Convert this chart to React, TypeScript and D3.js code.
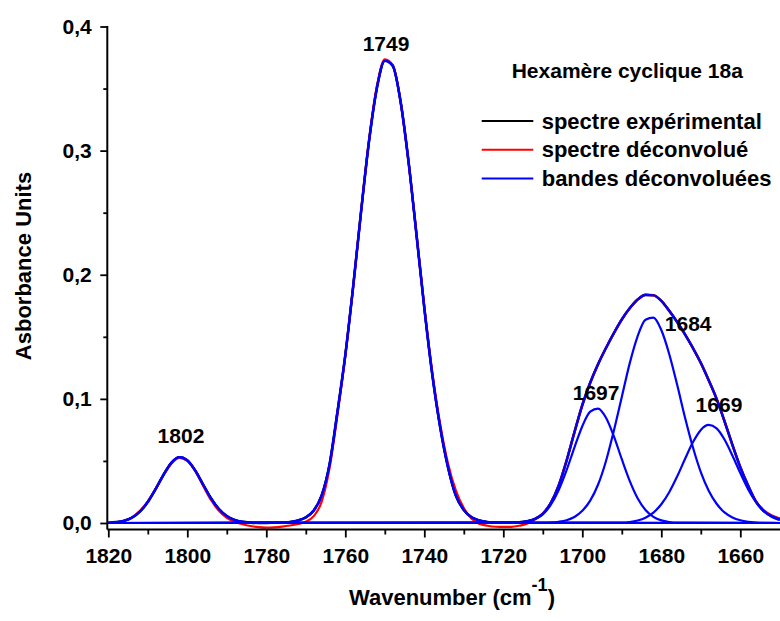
import React from 'react';
import * as d3 from 'd3';

const width = 780;
const height = 621;
const font = '"Liberation Sans", Arial, Helvetica, sans-serif';

// wavenumber grid of the spectra (cm-1), every 2 cm-1
const wavenumbers = d3.range(1820, 1649, -2);

const spectreExperimental = [
  0.0002, 0.0007, 0.0018, 0.0043, 0.0092, 0.017, 0.0275, 0.039, 0.0486, 0.053,
  0.0505, 0.0423, 0.031, 0.0199, 0.0112, 0.0055, 0.0024, 0.0009, 0.0003, 0.0001,
  0.0001, 0.0002, 0.0003, 0.0008, 0.002, 0.0045, 0.01, 0.022, 0.047, 0.0892,
  0.1352, 0.1908, 0.251, 0.3074, 0.3505, 0.3724, 0.3684, 0.3394, 0.2913, 0.2329,
  0.1734, 0.1202, 0.0776, 0.045, 0.022, 0.0105, 0.0045, 0.002, 0.0008, 0.0003,
  0.0002, 0.0003, 0.0005, 0.0013, 0.0033, 0.0075, 0.016, 0.03, 0.05, 0.073,
  0.095, 0.113, 0.128, 0.141, 0.153, 0.164, 0.173, 0.18, 0.1838, 0.1835,
  0.179, 0.171, 0.162, 0.152, 0.141, 0.129, 0.115, 0.1, 0.082, 0.063,
  0.045, 0.03, 0.017, 0.0095, 0.0055, 0.0032,
];

const spectreDeconvolue = [
  0.0, 0.0005, 0.0016, 0.0045, 0.0098, 0.0175, 0.0275, 0.0385, 0.048, 0.0525,
  0.05, 0.042, 0.03, 0.0185, 0.0098, 0.0042, 0.001, -0.001, -0.0024, -0.0033,
  -0.0037, -0.0035, -0.0029, -0.002, -0.0008, 0.001, 0.0055, 0.017, 0.044, 0.087,
  0.1345, 0.1905, 0.2515, 0.3085, 0.352, 0.3735, 0.369, 0.3395, 0.2915, 0.2335,
  0.1745, 0.122, 0.08, 0.048, 0.026, 0.012, 0.0035, -0.0008, -0.0022, -0.003,
  -0.0032, -0.0031, -0.0022, -0.0006, 0.0028, 0.0075, 0.016, 0.03, 0.05, 0.073,
  0.095, 0.113, 0.128, 0.141, 0.153, 0.164, 0.173, 0.18, 0.1838, 0.1835,
  0.179, 0.171, 0.162, 0.152, 0.141, 0.129, 0.115, 0.1, 0.082, 0.063,
  0.045, 0.03, 0.0175, 0.0102, 0.006, 0.0036,
];

// deconvoluted bands, each starting at bandStarts[i] and going down by 2 cm-1
const bandStarts = [1820, 1776, 1716, 1710, 1690];
const band1802 = [
  0.0002, 0.0007, 0.0018, 0.0043, 0.0092, 0.017, 0.0275, 0.039, 0.0486, 0.053,
  0.0505, 0.0423, 0.031, 0.0199, 0.0112, 0.0055, 0.0024, 0.0009, 0.0003, 0.0001,
];
const band1749 = [
  0.0003, 0.0008, 0.002, 0.0045, 0.01, 0.022, 0.047, 0.0892, 0.1352, 0.1908,
  0.251, 0.3074, 0.3505, 0.3724, 0.3684, 0.3394, 0.2913, 0.2329, 0.1734, 0.1202,
  0.0776, 0.045, 0.022, 0.0105, 0.0045, 0.002, 0.0008, 0.0003,
];
const band1697 = [
  0.0005, 0.0013, 0.0033, 0.007, 0.0145, 0.0264, 0.0424, 0.0608, 0.078, 0.0897,
  0.0922, 0.0848, 0.0698, 0.0514, 0.034, 0.02, 0.0105, 0.005, 0.0021, 0.0008, 0.0003,
];
const band1684 = [
  0.0002, 0.0004, 0.001, 0.0022, 0.0048, 0.0098, 0.018, 0.031, 0.05, 0.0745,
  0.1015, 0.1286, 0.1504, 0.1637, 0.1655, 0.1555, 0.1362, 0.1115, 0.085, 0.061,
  0.041, 0.026, 0.0155, 0.0085, 0.0045, 0.0022, 0.001, 0.0004, 0.0001,
];
const band1669 = [
  0.0003, 0.0008, 0.002, 0.0043, 0.0084, 0.0151, 0.0248, 0.0374, 0.0516, 0.065,
  0.075, 0.079, 0.0763, 0.0673, 0.0544, 0.0402, 0.0271, 0.0168, 0.0095, 0.0049, 0.0023,
];
const bands = [band1802, band1749, band1697, band1684, band1669];

const peakLabels = ['1802', '1749', '1697', '1684', '1669'];
const labelWavenumbers = [1801.6, 1749.7, 1696.5, 1673.2, 1665.4];
const labelAbsorbance = [0.0646, 0.3801, 0.099, 0.1548, 0.0891];

const xTicks = [1820, 1800, 1780, 1760, 1740, 1720, 1700, 1680, 1660];
const xMinorTicks = [1810, 1790, 1770, 1750, 1730, 1710, 1690, 1670];
const yTicks = [0, 0.1, 0.2, 0.3, 0.4];
const yMinorTicks = [0.05, 0.15, 0.25, 0.35];

const chartTitle = 'Hexamère cyclique 18a';
const legendLabels = ['spectre expérimental', 'spectre déconvolué', 'bandes déconvoluées'];
const legendColors = ['#000000', '#ff0000', '#0000ff'];

const x = d3.scaleLinear().domain([1820, 1650]).range([108.3, 779.8]);
const y = d3.scaleLinear().domain([0, 0.4]).range([523, 26.5]);
const axisY = 529.5;
const axisX = 107.3;

const line = d3
  .line<[number, number]>()
  .x(d => x(d[0]))
  .y(d => y(d[1]))
  .curve(d3.curveMonotoneX);

const spectrum = (values: number[]) =>
  values.map((v, i) => [wavenumbers[i], v] as [number, number]);

const bandPoints = (values: number[], start: number) => {
  const pts = values.map((v, i) => [start - 2 * i, v] as [number, number]);
  const first = pts[0][0];
  const last = pts[pts.length - 1][0];
  const out: [number, number][] = [];
  if (first < 1820) out.push([1820, 0]);
  out.push(...pts);
  if (last > 1650) out.push([1650, 0]);
  return out;
};

export default function App() {
  const xAxisRef = React.useRef<SVGGElement>(null);
  const yAxisRef = React.useRef<SVGGElement>(null);

  React.useEffect(() => {
    document.body.style.margin = '0';

    const gx = d3.select(xAxisRef.current);
    gx.selectAll('*').remove();
    gx.append('g')
      .call(
        d3.axisBottom(x).tickValues(xTicks).tickSize(8).tickPadding(10.5).tickFormat(d3.format('d')) as any
      );
    gx.append('g')
      .call(d3.axisBottom(x).tickValues(xMinorTicks).tickSize(5).tickFormat(() => '') as any);
    gx.selectAll('.domain').remove();
    gx.selectAll('line').attr('stroke', '#000').attr('stroke-width', 1.8);
    gx.selectAll('text')
      .attr('font-family', font)
      .attr('font-size', 21)
      .attr('font-weight', 'bold')
      .attr('fill', '#000');

    const gy = d3.select(yAxisRef.current);
    gy.selectAll('*').remove();
    gy.append('g')
      .call(
        d3
          .axisLeft(y)
          .tickValues(yTicks)
          .tickSize(7)
          .tickPadding(8.5)
          .tickFormat(d => d3.format('.1f')(d as number).replace('.', ',')) as any
      );
    gy.append('g')
      .call(d3.axisLeft(y).tickValues(yMinorTicks).tickSize(4).tickFormat(() => '') as any);
    gy.selectAll('.domain').remove();
    gy.selectAll('line').attr('stroke', '#000').attr('stroke-width', 1.8);
    gy.selectAll('text')
      .attr('font-family', font)
      .attr('font-size', 21)
      .attr('font-weight', 'bold')
      .attr('fill', '#000');
  }, []);

  const expPts = spectrum(spectreExperimental);
  const decPts = spectrum(spectreDeconvolue);

  return (
    <svg width={width} height={height} style={{ display: 'block', background: '#fff' }}>
      {/* spectra */}
      <path d={line(expPts) ?? ''} fill="none" stroke="#000" strokeWidth={2.6} />
      <path d={line(decPts) ?? ''} fill="none" stroke="#ff0000" strokeWidth={2.2} />
      {bands.map((b, i) => (
        <path
          key={peakLabels[i]}
          d={line(bandPoints(b, bandStarts[i])) ?? ''}
          fill="none"
          stroke="#0000ff"
          strokeWidth={2.2}
        />
      ))}
      <path d={line(expPts) ?? ''} fill="none" stroke="#0000ff" strokeWidth={2.2} />

      {/* axes */}
      <line x1={axisX} x2={axisX} y1={y(0.4) - 0.5} y2={axisY} stroke="#000" strokeWidth={2} />
      <line x1={axisX} x2={width} y1={axisY} y2={axisY} stroke="#000" strokeWidth={2} />
      <g ref={xAxisRef} transform={`translate(0,${axisY})`} />
      <g ref={yAxisRef} transform={`translate(${axisX},0)`} />

      {/* peak labels */}
      {peakLabels.map((t, i) => (
        <text
          key={t}
          x={x(labelWavenumbers[i])}
          y={y(labelAbsorbance[i])}
          textAnchor="middle"
          fontFamily={font}
          fontSize={21}
          fontWeight="bold"
        >
          {t}
        </text>
      ))}

      {/* axis titles */}
      <text
        transform="translate(31,266) rotate(-90)"
        textAnchor="middle"
        fontFamily={font}
        fontSize={22}
        fontWeight="bold"
      >
        Asborbance Units
      </text>
      <text x={452} y={605} textAnchor="middle" fontFamily={font} fontSize={22} fontWeight="bold">
        Wavenumber (cm<tspan dy={-14} fontSize={18}>-1</tspan>
        <tspan dy={14}>)</tspan>
      </text>

      {/* title and legend */}
      <text x={511.7} y={78} fontFamily={font} fontSize={21} fontWeight="bold">
        {chartTitle}
      </text>
      {legendLabels.map((t, i) => (
        <g key={t} transform={`translate(0,${121 + i * 28.7})`}>
          <line x1={481.7} x2={533.3} y1={0} y2={0} stroke={legendColors[i]} strokeWidth={2} />
          <text x={541.7} y={7.5} fontFamily={font} fontSize={22} fontWeight="bold">
            {t}
          </text>
        </g>
      ))}
    </svg>
  );
}
